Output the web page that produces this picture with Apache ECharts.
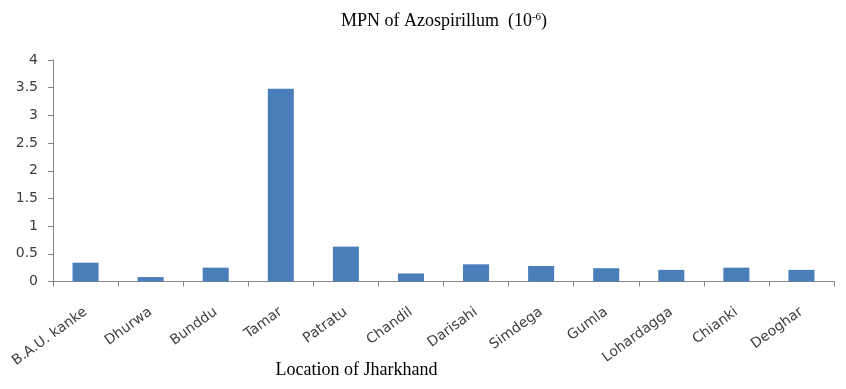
<!DOCTYPE html>
<html><head><meta charset="utf-8">
<script src="https://cdn.jsdelivr.net/npm/echarts@6/dist/echarts.min.js"></script>
<style>html,body{margin:0;padding:0;background:#fff}#c{width:846px;height:389px}</style>
</head><body><div id="c"></div>
<script>
const categories = ["B.A.U. kanke","Dhurwa","Bunddu","Tamar","Patratu","Chandil","Darisahi","Simdega","Gumla","Lohardagga","Chianki","Deoghar"];
const mpnValues = [0.34,0.08,0.25,3.48,0.63,0.145,0.31,0.28,0.24,0.21,0.25,0.21];
const yTicks = {min:0, max:4, interval:0.5};
const chart = echarts.init(document.getElementById('c'));
chart.setOption({
  animation:false,
  title:{
    text:'MPN of Azospirillum  (10{sup|-6})',
    left:439, top:7, textAlign:'center',
    textStyle:{fontFamily:'Liberation Serif',fontSize:18,fontWeight:'normal',color:'#000',
      rich:{sup:{fontFamily:'Liberation Serif',fontSize:11,verticalAlign:'top',padding:[0,0,7,0],color:'#000'}}}
  },
  grid:{left:53,right:12,top:60,bottom:107.5,containLabel:false,outerBoundsMode:'none'},
  xAxis:{
    type:'category', data:categories,
    name:'Location of Jharkhand', nameLocation:'middle', nameGap:80, nameMoveOverlap:false,
    nameTextStyle:{fontFamily:'Liberation Serif',fontSize:18,color:'#000',padding:[0,174,0,0]},
    axisLine:{lineStyle:{color:'#868686',width:1}},
    axisTick:{show:true,length:5,lineStyle:{color:'#868686'}},
    axisLabel:{rotate:36,fontFamily:'DejaVu Sans',fontSize:14,color:'#404040',margin:29,interval:0}
  },
  yAxis:{
    type:'value', min:yTicks.min, max:yTicks.max, interval:yTicks.interval,
    axisLine:{show:true,lineStyle:{color:'#868686',width:1}},
    axisTick:{show:true,length:5,lineStyle:{color:'#868686'}},
    splitLine:{show:false},
    axisLabel:{fontFamily:'DejaVu Sans',fontSize:14,color:'#404040',margin:15}
  },
  series:[{type:'bar',data:mpnValues,barWidth:'40%',itemStyle:{color:'#4a7ebb'}}]
});
</script></body></html>
